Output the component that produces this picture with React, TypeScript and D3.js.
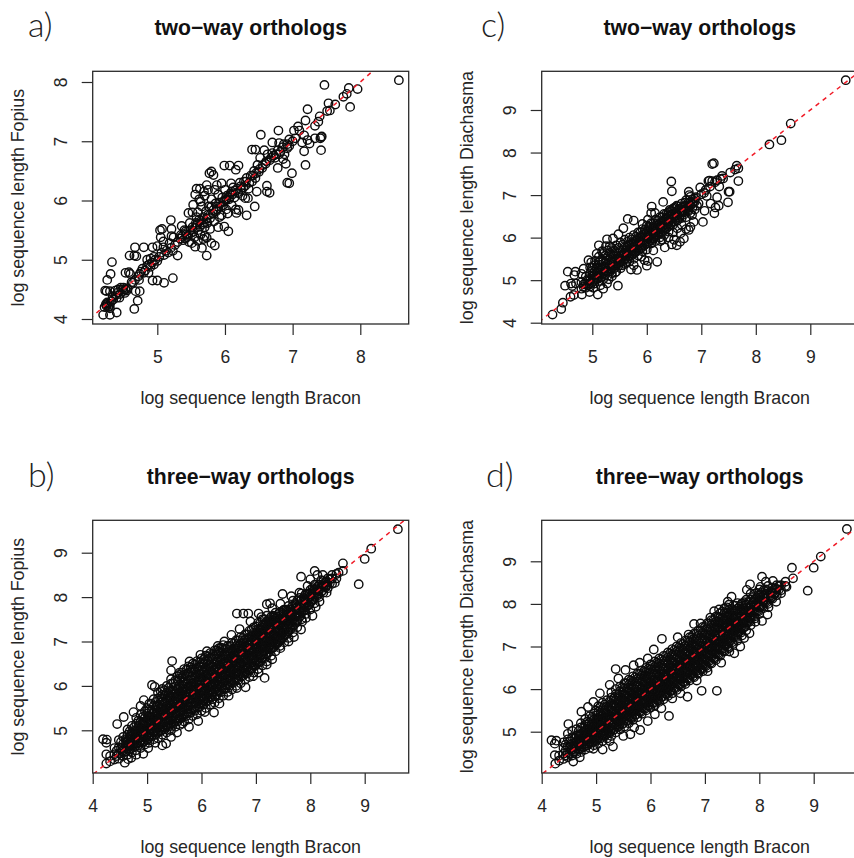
import { useEffect, useRef } from 'react';
import * as d3 from 'd3';

type Pair = [number, number];
type Column = [number, number[]];

const TITLE_TWO = 'two−way orthologs';
const TITLE_THREE = 'three−way orthologs';
const X_LABEL = 'log sequence length Bracon';
const FOPIUS_LABEL = 'log sequence length Fopius';
const DIACHASMA_LABEL = 'log sequence length Diachasma';

const ticksAX = [5, 6, 7, 8];
const ticksAY = [4, 5, 6, 7, 8];
const ticksCX = [5, 6, 7, 8, 9];
const ticksCY = [4, 5, 6, 7, 8, 9];
const ticksLowerX = [4, 5, 6, 7, 8, 9];
const ticksLowerY = [5, 6, 7, 8, 9];

const identityLine: Pair[] = [[3.5, 3.5], [10.5, 10.5]];

// a) Fopius vs Bracon, two-way
const twoWayFopius: Pair[] = [
  [8.57,8.03],[7.47,7.95],[7.83,7.9],[7.96,7.88],[7.8,7.8],[7.75,7.75],[7.85,7.58],[7.63,7.62],[7.53,7.64],[7.55,7.52],[7.51,7.51],[7.22,7.54],
  [7.4,7.42],[7.19,7.35],[7.38,7.33],[7.33,7.26],[7.08,7.25],[7.02,7.18],[7.1,7.18],[6.79,7.18],[6.53,7.11],[7.43,7.08],[7.42,7.07],[7.41,7.05],
  [7.33,7.05],[7.17,7.1],[7.22,7.02],[7.25,6.96],[7.14,6.98],[6.95,7.03],[6.7,6.98],[6.8,6.97],[7.0,7.0],[7.42,6.85],[7.17,6.83],[7.19,6.6],
  [6.99,6.46],[6.92,6.3],[6.95,6.29],[6.9,6.62],[6.78,6.55],[6.86,6.7],[6.92,6.88],[7.04,7.05],[6.87,6.95],[6.95,6.92],
  [4.2,4.07],[4.3,4.07],[4.4,4.11],[4.66,4.17],[4.71,4.31],[4.68,4.47],[4.74,4.47],[4.33,4.96],[4.31,4.76],[4.26,4.66],[4.23,4.48],[4.3,4.47],
  [4.22,4.2],[4.25,4.22],[4.27,4.26],[4.3,4.25],[4.32,4.3],[4.28,4.2],[4.24,4.25],[4.35,4.33],[4.38,4.4],[4.42,4.45],[4.45,4.42],[4.48,4.5],
  [4.5,4.47],[4.53,4.5],[4.44,4.36],[4.55,4.48],[4.38,4.48],[4.42,4.5],[4.46,4.53],[4.5,4.53],[4.25,4.47],[4.3,4.18],
  [4.53,4.78],[4.58,4.79],[4.6,4.76],[4.67,4.66],[4.73,4.66],[4.64,4.61],[4.59,5.07],[4.67,5.21],[4.66,5.07],[4.69,5.06],[4.8,5.21],[4.93,5.21],
  [5,5.23],[5.09,5.21],[4.93,4.65],[5,4.65],[5.1,4.61],[5.23,4.69],[4.87,4.78],[4.72,4.72],[4.76,4.8],[4.78,4.85],[4.82,4.82],[4.85,4.9],
  [4.88,4.92],[4.9,4.88],[4.92,4.95],[4.95,4.92],[4.97,5],[5,4.98],[4.9,5.02],[4.95,5.05],[4.85,5],[5.03,5.05],[5.06,5.12],[5.1,5.08],[5.13,5.15],
  [5.16,5.12],[5.2,5.2],[5.23,5.15],[5.26,5.25],[5.18,5.28],[5.3,5.07],[5.2,5.67],[5.07,5.52],[5.04,5.5],[5.21,5.52],[5.05,5.38],[5.09,5.31],
  [5.21,5.4],[5.24,5.38],[5.36,5.57],[5.4,5.5],[5.48,5.62],[5.73,5.07],[5.66,5.2],[5.85,5.24],[5.8,5.28],[5.73,5.37],[5.68,5.35],[5.56,5.22],
  [5.51,5.28],[6.05,5.48],[5.99,5.56],[5.77,6.46],[5.8,6.49],[5.83,6.43],[5.99,6.59],[6.07,6.59],[6.2,6.59],[6.16,6.52],[5.58,6.2],[5.63,6.2],
  [5.69,6.15],[5.73,6.26],[5.88,6.26],[5.95,6.29],[6.09,6.29],[5.56,6.1],[5.53,5.93],[5.46,5.79],[6.44,5.9],[6.32,5.75],[6.17,5.79],[6.2,5.84],
  [6.3,6.04],[6.34,6.04],[6.47,6.15],[6.62,6.15],[6.66,6.13],[6.62,6.25],[6.4,6.86],[6.45,6.86],
  [5.3,5.3],[5.35,5.42],[5.38,5.33],[5.42,5.48],[5.44,5.38],[5.47,5.3],[5.5,5.45],[5.52,5.55],[5.55,5.38],[5.57,5.62],[5.6,5.5],[5.62,5.68],
  [5.64,5.42],[5.66,5.6],[5.68,5.72],[5.7,5.55],[5.72,5.82],[5.74,5.62],[5.76,5.9],[5.78,5.7],[5.8,6.02],[5.82,5.78],[5.84,5.65],[5.86,5.95],
  [5.88,5.85],[5.9,6.1],[5.92,5.72],[5.94,5.9],[5.96,6.05],[5.98,5.98],[6,6.18],[6.02,5.85],[6.04,5.78],[6.06,6.02],[6.08,6.12],[6.1,5.92],
  [6.12,6.22],[6.14,6.05],[6.16,5.85],[6.18,6.2],[6.2,6.12],[6.22,6.3],[6.24,6.18],[6.26,6.08],[6.28,6.32],[6.3,6.25],[6.32,6.38],[6.35,6.2],
  [6.38,6.42],[6.4,6.32],[6.43,6.5],[6.45,6.38],[6.48,6.6],[6.5,6.48],[6.52,6.72],[6.55,6.55],[6.58,6.85],[6.6,6.62],[6.63,6.78],[6.66,6.68],
  [6.7,6.8],[6.74,6.72],[6.78,6.85],[6.8,6.78],[6.85,6.9],[6.88,6.78],[6.92,6.95],[5.62,6.02],[5.66,5.9],[5.7,6.08],[5.6,5.8],[5.75,6.18],
  [5.8,5.9],[5.9,5.55],[5.95,5.75],[5.85,6.18],[6.02,6.02],[6.1,6.15],[5.58,5.72],[5.64,5.98],[5.52,5.8],[5.78,5.52],[5.7,5.4],[5.6,5.32],
  [5.34,5.36],[5.37,5.4],[5.41,5.36],[5.43,5.43],[5.46,5.42],[5.49,5.5],[5.53,5.47],[5.56,5.54],[5.59,5.6],[5.63,5.56],[5.65,5.66],[5.69,5.63],
  [5.73,5.7],[5.75,5.76],[5.79,5.77],[5.83,5.84],[5.87,5.82],[5.89,5.9],[5.93,5.96],[5.97,5.92],[6,6],[6.03,6.08],[6.07,6.05],[6.11,6.1],
  [6.15,6.17],[6.19,6.14],[6.23,6.24],[6.27,6.22],[6.31,6.32],[6.36,6.3],[6.41,6.42],[6.46,6.46],[6.51,6.53],[6.56,6.6],[6.61,6.66],[6.68,6.72],
  [6.72,6.76],[6.76,6.78],[6.82,6.82],[4.26,4.28],[4.29,4.22],[4.34,4.38],[4.4,4.36],[4.52,4.44],[4.56,4.52],[4.62,4.62],[4.74,4.76],[4.8,4.78],
];

// c) Diachasma vs Bracon, two-way
const twoWayDiachasmaEdge: Pair[] = [
  [9.65,9.7],[8.64,8.68],[8.47,8.29],[8.25,8.19],[7.2,7.73],[7.23,7.75],[7.68,7.33],[7.65,7.69],[7.68,7.63],[7.62,7.6],[7.53,7.53],[7.4,7.39],
  [7.38,7.45],[7.5,7.08],[7.52,7.08],[7.49,6.83],[7.32,6.75],[7.24,6.57],[7.26,6.71],[7.29,6.95],[6.45,7.32],[6.46,7.09],[6.3,6.84],[6.09,6.73],
  [6.08,6.58],[7.03,6.37],[7.06,6.63],[7.17,6.8],[6.98,7.18],[6.77,7.08],[6.78,7],[7.13,7.33],[7.2,7.33],[7.29,7.35],[7.33,7.2],[7.15,7.34],
  [5.65,6.44],[5.76,6.4],[5.57,6.22],[5.48,6.08],[5.27,5.96],[5.12,5.82],[4.55,5.2],[4.69,5.2],[4.67,5.12],[4.84,5.27],[4.93,5.47],[4.5,4.87],
  [4.61,4.92],[4.63,4.86],[4.46,4.47],[4.43,4.32],[4.27,4.19],[4.6,4.61],[4.66,4.65],[4.81,4.66],[5.1,4.66],[5.2,4.8],[5.27,4.92],[5.47,4.87],
  [5.36,5.09],[5.82,5.24],[5.71,5.25],[5.76,5.35],[6,5.34],[6.02,5.45],[6.19,5.43],[5.96,5.47],[6.33,5.77],[6.46,5.84],[6.61,5.9],[6.68,5.98],
  [6.77,6.18],[6.8,6.25],[6.86,6.37],[6.83,6.53],[6.55,5.82],[6.28,5.95],[6.72,6.2],[6.92,6.75],[6.9,6.95],[7.05,7.05],[7.1,6.98],[6.95,6.8],
  [6.85,6.82],[6.62,6.1],[6.5,5.95],[6.4,6],[6.75,6.65],[6.7,6.82],[6.55,6.75],[6.5,6.7],[6.42,6.65],[6.15,6.58],[5.92,6.32],[6.02,6.42],
  [5.05,5.45],[4.98,5.42],[5.18,5.68],[5.32,5.8],[5.38,5.98],[5.25,5.8],[5.08,5.62],[5,5.3],[4.8,5.15],[4.7,4.92],[4.95,4.72],[5.02,4.82],
  [5.15,4.88],[5.3,5.02],[5.42,5.18],[5.55,5.35],[5.63,5.42],[5.9,5.55],[6.12,5.7],[6.25,5.92],[7,7.02],[7.08,7.12],[7.16,7.2],[7.25,7.3],[7.35,7.38],
];
const twoWayDiachasmaCore: Column[] = [
  [4.8,[4.8,4.95]],[4.88,[4.82,4.92,5.08]],[4.96,[4.85,5,5.16,5.3]],[5.04,[4.92,5.05,5.2,5.35]],[5.12,[4.98,5.12,5.27,5.42,5.55]],
  [5.2,[5.02,5.17,5.32,5.47,5.62]],[5.28,[5.1,5.22,5.38,5.55,5.7]],[5.36,[5.16,5.3,5.44,5.6,5.76]],[5.44,[5.2,5.36,5.5,5.66,5.82]],
  [5.52,[5.28,5.42,5.56,5.7,5.88]],[5.6,[5.38,5.5,5.64,5.78,5.95]],[5.68,[5.44,5.56,5.7,5.84,6]],[5.76,[5.5,5.62,5.76,5.9,6.06]],
  [5.84,[5.58,5.7,5.84,5.98,6.12]],[5.92,[5.68,5.78,5.92,6.06,6.2]],[6,[5.72,5.86,6,6.14,6.28]],[6.08,[5.86,5.94,6.06,6.2,6.34]],
  [6.16,[5.92,6.02,6.14,6.28,6.42]],[6.24,[6,6.1,6.22,6.34,6.48]],[6.32,[6.06,6.18,6.3,6.42,6.56]],[6.4,[6.14,6.26,6.38,6.5,6.6]],
  [6.48,[6.12,6.3,6.46,6.56,6.68]],[6.56,[6.22,6.4,6.52,6.64,6.74]],[6.64,[6.3,6.46,6.6,6.7,6.8]],[6.72,[6.48,6.68,6.76,6.88]],
  [6.8,[6.58,6.76,6.84,6.96]],[6.88,[6.66,6.84,6.92]],
  [4.92,[4.88,4.98]],[5,[4.95,5.08,5.22]],[5.08,[5.02,5.16,5.3]],[5.16,[5.08,5.22,5.36,5.48]],[5.24,[5.14,5.28,5.42,5.58]],
  [5.32,[5.2,5.34,5.48,5.64]],[5.4,[5.28,5.42,5.56,5.7]],[5.48,[5.34,5.48,5.62,5.76]],[5.56,[5.44,5.58,5.7,5.84]],[5.64,[5.5,5.64,5.78,5.9]],
  [5.72,[5.58,5.72,5.86,5.96]],[5.8,[5.66,5.8,5.92,6.02]],[5.88,[5.74,5.88,6,6.12]],[5.96,[5.82,5.94,6.08,6.18]],[6.04,[5.9,6.02,6.14,6.26]],
  [6.12,[5.98,6.1,6.22,6.34]],[6.2,[6.06,6.18,6.3,6.4]],[6.28,[6.14,6.26,6.38,6.48]],[6.36,[6.22,6.34,6.46,6.56]],[6.44,[6.3,6.42,6.54,6.62]],
  [6.52,[6.38,6.5,6.6,6.7]],[6.6,[6.46,6.58,6.68]],[6.68,[6.54,6.64,6.74]],[6.76,[6.62,6.72,6.82]],[6.84,[6.7,6.8,6.9]],
  [4.84,[4.84,4.9]],[4.94,[4.92,5.03]],[5.02,[4.98,5.12]],[5.1,[5.06,5.18]],[5.18,[5.14,5.26]],[5.26,[5.2,5.32]],[5.34,[5.26,5.38]],[5.42,[5.34,5.46]],
  [5.5,[5.4,5.52]],[5.58,[5.5,5.62]],[5.66,[5.58,5.68]],[5.74,[5.66,5.78]],[5.82,[5.74,5.86]],[5.9,[5.82,5.94]],[5.98,[5.9,6.02]],[6.06,[5.98,6.1]],
  [6.14,[6.06,6.18]],[6.22,[6.14,6.26]],[6.3,[6.22,6.34]],[6.38,[6.3,6.42]],[6.46,[6.38,6.5]],[6.54,[6.46,6.56]],[6.62,[6.54,6.64]],[6.7,[6.6,6.72]],
];

// b) Fopius vs Bracon, three-way
const threeWayFopiusEdge: Pair[] = [
  [9.61,9.53],[9.12,9.09],[9,8.86],[8.89,8.29],[8.6,8.76],[8.6,8.59],[8.08,8.59],[7.83,8.46],[8,8.4],[8.23,8.5],[8.13,8.5],[8.17,7.9],[8.04,7.58],
  [7.92,7.53],[7.83,7.27],[7.49,8.07],[7.2,7.84],[7.26,7.86],[6.65,7.63],[6.77,7.63],[6.86,7.63],[7.05,7.63],[7.16,6.18],[6.81,5.97],[6.33,5.6],
  [6.23,5.4],[5.46,6.56],[5.44,6.35],[5.09,6.02],[5.14,5.98],[4.94,5.68],[4.75,5.41],[4.57,5.3],[4.45,5.14],[4.19,4.8],[4.26,4.79],[4.25,4.72],
  [4.25,4.46],[4.25,4.25],[4.59,4.27],[4.71,4.38],[4.93,4.47],[5.28,4.66],[5.44,4.85],[5.77,5.08],[5.94,5.21],[6.06,5.41],[5.35,4.7],[5.02,4.6],
  [4.88,5.55],[5.25,5.88],[5.6,6.25],[5.78,6.55],[5.98,6.7],[6.1,6.78],[6.3,6.9],[6.42,7],[6.55,7.15],[6.7,7.28],[6.9,7.45],[7.1,7.55],[7.3,7.75],
  [7.45,7.85],[7.65,8.02],[7.8,8.1],[7.95,8.25],[8.2,8.38],[8.4,8.5],[8.52,8.55],[6.5,5.78],[6.65,5.95],[6.95,6.22],[7.05,6.3],[7.2,6.48],[7.3,6.6],
  [7.45,6.85],[7.6,7],[7.7,7.1],[7.85,7.45],[8.1,7.78],[8.3,8.1],[8.45,8.32],[5.55,4.95],[5.65,5.15],[4.65,4.35],[4.8,4.45],[5.15,4.72],
];
const threeWayFopiusCore: Column[] = [
  [4.32,[4.3,4.42]],[4.4,[4.34,4.46,4.6]],[4.48,[4.36,4.48,4.62,4.78]],[4.56,[4.42,4.55,4.7,4.85]],[4.64,[4.45,4.6,4.75,4.9,5.02]],
  [4.72,[4.5,4.65,4.8,4.95,5.1]],[4.8,[4.55,4.7,4.85,5,5.15,5.28]],[4.88,[4.6,4.75,4.9,5.05,5.2,5.35]],[4.96,[4.68,4.83,4.98,5.13,5.28,5.43]],
  [5.04,[4.72,4.87,5.02,5.17,5.32,5.47,5.6]],[5.12,[4.8,4.95,5.1,5.25,5.4,5.55,5.7]],[5.2,[4.82,4.97,5.12,5.27,5.42,5.57,5.72,5.85]],
  [5.28,[4.9,5.05,5.2,5.35,5.5,5.65,5.8,5.93]],[5.36,[4.95,5.1,5.25,5.4,5.55,5.7,5.85,6]],[5.44,[5,5.15,5.3,5.45,5.6,5.75,5.9,6.05,6.15]],
  [5.52,[5.08,5.23,5.38,5.53,5.68,5.83,5.98,6.13]],[5.6,[5.12,5.27,5.42,5.57,5.72,5.87,6.02,6.17,6.3]],[5.68,[5.2,5.35,5.5,5.65,5.8,5.95,6.1,6.25,6.38]],
  [5.76,[5.24,5.39,5.54,5.69,5.84,5.99,6.14,6.29,6.44]],[5.84,[5.32,5.47,5.62,5.77,5.92,6.07,6.22,6.37,6.5]],[5.92,[5.36,5.51,5.66,5.81,5.96,6.11,6.26,6.41,6.56]],
  [6,[5.44,5.59,5.74,5.89,6.04,6.19,6.34,6.49,6.62]],[6.08,[5.5,5.65,5.8,5.95,6.1,6.25,6.4,6.55,6.68]],[6.16,[5.58,5.73,5.88,6.03,6.18,6.33,6.48,6.63,6.74]],
  [6.24,[5.62,5.77,5.92,6.07,6.22,6.37,6.52,6.67,6.8]],[6.32,[5.72,5.87,6.02,6.17,6.32,6.47,6.62,6.77,6.85]],[6.4,[5.78,5.93,6.08,6.23,6.38,6.53,6.68,6.83,6.92]],
  [6.48,[5.86,6.01,6.16,6.31,6.46,6.61,6.76,6.9]],[6.56,[5.92,6.07,6.22,6.37,6.52,6.67,6.82,6.97]],[6.64,[6,6.15,6.3,6.45,6.6,6.75,6.9,7.03]],
  [6.72,[6.06,6.21,6.36,6.51,6.66,6.81,6.96,7.1]],[6.8,[6.14,6.29,6.44,6.59,6.74,6.89,7.04,7.16]],[6.88,[6.2,6.35,6.5,6.65,6.8,6.95,7.1,7.24]],
  [6.96,[6.3,6.45,6.6,6.75,6.9,7.05,7.2,7.32]],[7.04,[6.38,6.53,6.68,6.83,6.98,7.13,7.28,7.42]],[7.12,[6.46,6.61,6.76,6.91,7.06,7.21,7.36,7.5]],
  [7.2,[6.55,6.7,6.85,7,7.15,7.3,7.45,7.58]],[7.28,[6.68,6.83,6.98,7.13,7.28,7.43,7.56]],[7.36,[6.78,6.93,7.08,7.23,7.38,7.52,7.65]],
  [7.44,[6.9,7.05,7.2,7.35,7.5,7.65]],[7.52,[6.98,7.13,7.28,7.43,7.58,7.72]],[7.6,[7.08,7.23,7.38,7.53,7.68,7.8]],[7.68,[7.2,7.35,7.5,7.65,7.8,7.92]],
  [7.76,[7.32,7.47,7.62,7.77,7.92]],[7.84,[7.5,7.65,7.8,7.95,8.08]],[7.92,[7.62,7.77,7.92,8.07]],[8,[7.72,7.87,8.02,8.16]],[8.08,[7.86,8.01,8.16,8.28]],
  [8.16,[8,8.15,8.28]],[8.24,[8.1,8.24,8.36]],[8.32,[8.2,8.32,8.42]],[8.4,[8.3,8.42]],[8.48,[8.42,8.52]],
];
// second pass through the solid middle of the cloud
const threeWayFopiusInner: Column[] = [
  [4.44,[4.42,4.54]],[4.52,[4.48,4.6,4.74]],[4.6,[4.52,4.66,4.8]],[4.68,[4.57,4.71,4.86,4.98]],[4.76,[4.62,4.77,4.91,5.07]],
  [4.84,[4.66,4.81,4.97,5.1,5.22]],[4.92,[4.72,4.86,5.03,5.16,5.3]],[5,[4.78,4.93,5.08,5.22,5.38,5.5]],[5.08,[4.86,5,5.16,5.3,5.45,5.6]],
  [5.16,[4.9,5.05,5.2,5.35,5.5,5.64]],[5.24,[4.97,5.12,5.28,5.42,5.58,5.72]],[5.32,[5.02,5.18,5.33,5.48,5.62,5.78,5.9]],[5.4,[5.08,5.22,5.38,5.52,5.68,5.82,5.96]],
  [5.48,[5.15,5.3,5.45,5.6,5.76,5.9,6.06]],[5.56,[5.2,5.34,5.5,5.64,5.8,5.94,6.1,6.22]],[5.64,[5.28,5.42,5.58,5.72,5.88,6.02,6.18,6.3]],
  [5.72,[5.32,5.47,5.62,5.76,5.92,6.06,6.22,6.36]],[5.8,[5.4,5.54,5.7,5.84,6,6.14,6.3,6.42]],[5.88,[5.44,5.6,5.74,5.9,6.04,6.2,6.34,6.48]],
  [5.96,[5.52,5.66,5.82,5.96,6.12,6.26,6.42,6.54]],[6.04,[5.58,5.72,5.88,6.02,6.18,6.32,6.48,6.6]],[6.12,[5.66,5.8,5.96,6.1,6.26,6.4,6.56,6.66]],
  [6.2,[5.7,5.85,6,6.14,6.3,6.44,6.6,6.72]],[6.28,[5.8,5.94,6.1,6.24,6.4,6.54,6.7,6.8]],[6.36,[5.86,6,6.16,6.3,6.46,6.6,6.76,6.86]],
  [6.44,[5.94,6.08,6.24,6.38,6.54,6.68,6.84]],[6.52,[6,6.14,6.3,6.44,6.6,6.74,6.9]],[6.6,[6.08,6.22,6.38,6.52,6.68,6.82,6.96]],
  [6.68,[6.14,6.28,6.44,6.58,6.74,6.88,7.02]],[6.76,[6.22,6.36,6.52,6.66,6.82,6.96,7.08]],[6.84,[6.28,6.42,6.58,6.72,6.88,7.02,7.16]],
  [6.92,[6.38,6.52,6.68,6.82,6.98,7.12,7.26]],[7,[6.46,6.6,6.76,6.9,7.06,7.2,7.34]],[7.08,[6.54,6.68,6.84,6.98,7.14,7.28,7.42]],
  [7.16,[6.62,6.78,6.92,7.08,7.22,7.38,7.5]],[7.24,[6.76,6.9,7.06,7.2,7.36,7.5]],[7.32,[6.86,7,7.16,7.3,7.46,7.58]],[7.4,[6.96,7.12,7.26,7.42,7.56]],
  [7.48,[7.06,7.2,7.36,7.5,7.64]],[7.56,[7.16,7.3,7.46,7.6,7.72]],[7.64,[7.28,7.44,7.58,7.72]],[7.72,[7.42,7.56,7.7,7.84]],[7.8,[7.56,7.7,7.84,7.98]],
  [7.88,[7.7,7.84,7.98]],[7.96,[7.82,7.96,8.08]],[8.04,[7.94,8.08,8.2]],[8.12,[8.06,8.2]],[8.2,[8.12,8.24]],[8.28,[8.22,8.34]],[8.36,[8.32,8.4]],
];

// d) Diachasma vs Bracon, three-way
const threeWayDiachasmaEdge: Pair[] = [
  [9.61,9.76],[9.13,9.11],[9,8.85],[8.89,8.31],[8.6,8.85],[8.05,8.64],[7.83,8.46],[7.77,8.33],[7.49,8.17],[7.26,7.87],[7.17,7.83],[6.8,7.53],[6.92,7.54],
  [6.21,7.18],[6.06,6.93],[5.69,6.56],[5.36,6.47],[5.54,6.45],[5.41,6.25],[5.07,5.9],[4.95,5.7],[4.73,5.47],[4.49,5.18],[4.18,4.8],[4.27,4.79],[4.24,4.72],
  [4.24,4.45],[4.25,4.25],[4.58,4.3],[4.7,4.4],[5.12,4.58],[5.31,4.65],[5.5,4.9],[5.63,4.94],[5.81,5.04],[6.08,5.41],[6.34,5.37],[6.68,5.82],[6.94,5.96],
  [7.22,5.96],[7.54,6.84],[7.82,7.31],[7.93,7.58],[8.05,7.6],[8.17,7.92],[8.31,8.05],[8.25,8.54],[8.62,8.6],[8.12,8.52],[8.02,8.4],[7.68,8],[7.42,8.05],
  [7.1,7.68],[6.7,7.28],[6.5,7.22],[5.95,6.72],[5.8,6.62],[5.25,6.1],[4.85,5.58],[6.4,5.78],[6.55,5.9],[6.2,5.55],[5.95,5.25],[5.7,5.1],[5.25,4.78],[4.95,4.6],
  [6.85,6.2],[7.05,6.42],[7.3,6.62],[7.45,6.88],[7.65,7],[7.72,7.2],[8.15,7.75],[8.4,8.25],[8.5,8.4],
];
const threeWayDiachasmaCore: Column[] = [
  [4.32,[4.32,4.44]],[4.4,[4.36,4.48,4.62,4.75]],[4.48,[4.4,4.52,4.66,4.82,4.95]],[4.56,[4.44,4.58,4.72,4.87,5.02]],[4.64,[4.48,4.62,4.76,4.91,5.06]],
  [4.72,[4.52,4.66,4.8,4.95,5.1,5.2]],[4.8,[4.58,4.72,4.87,5.02,5.17,5.3]],[4.88,[4.62,4.76,4.91,5.06,5.21,5.36]],[4.96,[4.68,4.83,4.98,5.13,5.28,5.43]],
  [5.04,[4.72,4.87,5.02,5.17,5.32,5.47,5.6]],[5.12,[4.78,4.93,5.08,5.23,5.38,5.53,5.68]],[5.2,[4.84,4.99,5.14,5.29,5.44,5.59,5.74]],
  [5.28,[4.9,5.05,5.2,5.35,5.5,5.65,5.8,5.92]],[5.36,[4.98,5.13,5.28,5.43,5.58,5.73,5.88,6]],[5.44,[5.05,5.2,5.35,5.5,5.65,5.8,5.95,6.06]],
  [5.52,[5.12,5.27,5.42,5.57,5.72,5.87,6.02,6.14]],[5.6,[5.2,5.35,5.5,5.65,5.8,5.95,6.1,6.22]],[5.68,[5.28,5.43,5.58,5.73,5.88,6.03,6.18,6.3]],
  [5.76,[5.34,5.49,5.64,5.79,5.94,6.09,6.24,6.36]],[5.84,[5.42,5.57,5.72,5.87,6.02,6.17,6.32,6.44]],[5.92,[5.5,5.65,5.8,5.95,6.1,6.25,6.4,6.5]],
  [6,[5.56,5.71,5.86,6.01,6.16,6.31,6.46,6.58]],[6.08,[5.62,5.77,5.92,6.07,6.22,6.37,6.52,6.65]],[6.16,[5.7,5.85,6,6.15,6.3,6.45,6.6,6.72]],
  [6.24,[5.76,5.91,6.06,6.21,6.36,6.51,6.66,6.78]],[6.32,[5.84,5.99,6.14,6.29,6.44,6.59,6.74,6.86]],[6.4,[5.9,6.05,6.2,6.35,6.5,6.65,6.8,6.94]],
  [6.48,[5.98,6.13,6.28,6.43,6.58,6.73,6.88,7]],[6.56,[6.06,6.21,6.36,6.51,6.66,6.81,6.96,7.08]],[6.64,[6.12,6.27,6.42,6.57,6.72,6.87,7.02,7.14]],
  [6.72,[6.2,6.35,6.5,6.65,6.8,6.95,7.1,7.22]],[6.8,[6.28,6.43,6.58,6.73,6.88,7.03,7.18,7.3]],[6.88,[6.36,6.51,6.66,6.81,6.96,7.11,7.26,7.38]],
  [6.96,[6.42,6.57,6.72,6.87,7.02,7.17,7.32,7.46]],[7.04,[6.5,6.65,6.8,6.95,7.1,7.25,7.4,7.54]],[7.12,[6.6,6.75,6.9,7.05,7.2,7.35,7.5,7.62]],
  [7.2,[6.68,6.83,6.98,7.13,7.28,7.43,7.58,7.7]],[7.28,[6.78,6.93,7.08,7.23,7.38,7.53,7.68,7.78]],[7.36,[6.88,7.03,7.18,7.33,7.48,7.63,7.78,7.9]],
  [7.44,[6.96,7.11,7.26,7.41,7.56,7.71,7.86,7.98]],[7.52,[7.06,7.21,7.36,7.51,7.66,7.81,7.96]],[7.6,[7.14,7.29,7.44,7.59,7.74,7.89,8.02]],
  [7.68,[7.26,7.41,7.56,7.71,7.86,8.01]],[7.76,[7.38,7.53,7.68,7.83,7.98,8.1]],[7.84,[7.5,7.65,7.8,7.95,8.1,8.24]],[7.92,[7.66,7.81,7.96,8.11,8.24]],
  [8,[7.76,7.91,8.06,8.21,8.34]],[8.08,[7.9,8.05,8.2,8.32]],[8.16,[8,8.15,8.3,8.42]],[8.24,[8.12,8.26,8.38]],[8.32,[8.2,8.34,8.44]],[8.4,[8.32,8.44]],[8.48,[8.42,8.52]],
];
// second pass through the solid middle of the cloud
const threeWayDiachasmaInner: Column[] = [
  [4.44,[4.44,4.56,4.7]],[4.52,[4.5,4.64,4.78]],[4.6,[4.54,4.68,4.84]],[4.68,[4.6,4.74,4.88,5.02]],[4.76,[4.64,4.78,4.94,5.08]],
  [4.84,[4.68,4.82,4.98,5.12,5.24]],[4.92,[4.74,4.88,5.04,5.18,5.32]],[5,[4.78,4.92,5.08,5.22,5.38,5.5]],[5.08,[4.84,4.98,5.14,5.28,5.44,5.58]],
  [5.16,[4.9,5.04,5.2,5.34,5.5,5.64]],[5.24,[4.96,5.1,5.26,5.4,5.56,5.7]],[5.32,[5.04,5.18,5.34,5.48,5.64,5.78]],[5.4,[5.12,5.26,5.42,5.56,5.72,5.86]],
  [5.48,[5.18,5.32,5.48,5.62,5.78,5.92,6.04]],[5.56,[5.26,5.4,5.56,5.7,5.86,6,6.14]],[5.64,[5.34,5.48,5.64,5.78,5.94,6.08,6.2]],
  [5.72,[5.4,5.54,5.7,5.84,6,6.14,6.28]],[5.8,[5.48,5.62,5.78,5.92,6.08,6.22,6.36]],[5.88,[5.56,5.7,5.86,6,6.16,6.3,6.42]],
  [5.96,[5.62,5.76,5.92,6.06,6.22,6.36,6.48]],[6.04,[5.68,5.82,5.98,6.12,6.28,6.42,6.56]],[6.12,[5.76,5.9,6.06,6.2,6.36,6.5,6.62]],
  [6.2,[5.82,5.96,6.12,6.26,6.42,6.56,6.7]],[6.28,[5.9,6.04,6.2,6.34,6.5,6.64,6.78]],[6.36,[5.96,6.1,6.26,6.4,6.56,6.7,6.84]],
  [6.44,[6.04,6.18,6.34,6.48,6.64,6.78,6.92]],[6.52,[6.12,6.26,6.42,6.56,6.72,6.86,6.98]],[6.6,[6.18,6.32,6.48,6.62,6.78,6.92,7.06]],
  [6.68,[6.26,6.4,6.56,6.7,6.86,7,7.14]],[6.76,[6.34,6.48,6.64,6.78,6.94,7.08,7.22]],[6.84,[6.42,6.56,6.72,6.86,7.02,7.16,7.3]],
  [6.92,[6.48,6.62,6.78,6.92,7.08,7.22,7.38]],[7,[6.56,6.7,6.86,7,7.16,7.3,7.46]],[7.08,[6.66,6.8,6.96,7.1,7.26,7.4,7.54]],
  [7.16,[6.74,6.88,7.04,7.18,7.34,7.48,7.62]],[7.24,[6.84,6.98,7.14,7.28,7.44,7.58,7.7]],[7.32,[6.94,7.08,7.24,7.38,7.54,7.68,7.82]],
  [7.4,[7.04,7.18,7.34,7.48,7.64,7.78,7.92]],[7.48,[7.14,7.28,7.44,7.58,7.74,7.88]],[7.56,[7.24,7.38,7.54,7.68,7.84,7.96]],[7.64,[7.36,7.5,7.66,7.8,7.94]],
  [7.72,[7.46,7.6,7.76,7.9,8.04]],[7.8,[7.6,7.74,7.9,8.04]],[7.88,[7.72,7.86,8.02,8.16]],[7.96,[7.84,7.98,8.14,8.26]],[8.04,[7.96,8.1,8.26]],
  [8.12,[8.06,8.2,8.34]],[8.2,[8.14,8.28]],[8.28,[8.24,8.36]],[8.36,[8.34,8.42]],
];
// the black middle of both three-way clouds, too overplotted to tell the two apart
const threeWayMiddle: Column[] = [
  [4.62,[4.52,4.64,4.76]],[4.7,[4.58,4.7,4.82,4.9]],[4.78,[4.64,4.76,4.88,5]],[4.86,[4.72,4.84,4.96,5.08]],[4.94,[4.76,4.9,5.02,5.14]],
  [5.02,[4.82,4.96,5.06,5.2,5.32]],[5.1,[4.9,5.02,5.14,5.26,5.38]],[5.18,[4.94,5.08,5.2,5.32,5.46]],[5.26,[5,5.14,5.26,5.38,5.52]],
  [5.34,[5.06,5.2,5.32,5.46,5.6]],[5.42,[5.12,5.26,5.4,5.52,5.66,5.78]],[5.5,[5.2,5.34,5.46,5.6,5.72,5.86]],[5.58,[5.26,5.4,5.54,5.66,5.8,5.92]],
  [5.66,[5.32,5.46,5.6,5.74,5.86,6]],[5.74,[5.4,5.54,5.68,5.8,5.94,6.06]],[5.82,[5.46,5.6,5.74,5.88,6,6.14]],[5.9,[5.54,5.68,5.82,5.94,6.08,6.2]],
  [5.98,[5.6,5.74,5.88,6.02,6.14,6.28]],[6.06,[5.68,5.82,5.96,6.08,6.22,6.34]],[6.14,[5.74,5.88,6.02,6.16,6.28,6.42]],[6.22,[5.82,5.96,6.1,6.22,6.36,6.48]],
  [6.3,[5.88,6.02,6.16,6.3,6.42,6.56]],[6.38,[5.96,6.1,6.24,6.36,6.5,6.62]],[6.46,[6.02,6.16,6.3,6.44,6.56,6.7]],[6.54,[6.1,6.24,6.38,6.5,6.64,6.76]],
  [6.62,[6.16,6.3,6.44,6.58,6.7,6.84]],[6.7,[6.24,6.38,6.52,6.64,6.78,6.9]],[6.78,[6.3,6.44,6.58,6.72,6.84,6.98]],[6.86,[6.38,6.52,6.66,6.78,6.92,7.04]],
  [6.94,[6.46,6.6,6.74,6.86,7,7.12]],[7.02,[6.54,6.68,6.82,6.94,7.08,7.2]],[7.1,[6.62,6.76,6.9,7.02,7.16,7.28]],[7.18,[6.72,6.86,6.98,7.12,7.24,7.38]],
  [7.26,[6.82,6.94,7.08,7.2,7.32,7.46]],[7.34,[6.9,7.04,7.16,7.28,7.42,7.54]],[7.42,[7,7.14,7.26,7.38,7.5,7.62]],[7.5,[7.1,7.24,7.36,7.48,7.6,7.7]],
  [7.58,[7.22,7.34,7.46,7.58,7.7]],[7.66,[7.32,7.44,7.56,7.68,7.78]],[7.74,[7.46,7.58,7.7,7.82]],[7.82,[7.58,7.7,7.82,7.92]],[7.9,[7.7,7.82,7.94,8.04]],
  [7.98,[7.82,7.94,8.06]],[8.06,[7.94,8.06,8.16]],[8.14,[8.04,8.16,8.24]],[8.22,[8.14,8.26]],[8.3,[8.26,8.36]],
];

const expand = (columns: Column[]): Pair[] =>
  columns.flatMap(([x, ys]) => ys.map((y): Pair => [x, y]));

const panels = [
  {
    letter: 'a)', letterX: 28, letterY: 37, title: TITLE_TWO, yLabel: FOPIUS_LABEL, yLabelX: 24,
    left: 92.7, top: 71.3, bottom: 324, ticksX: ticksAX, ticksY: ticksAY,
    xRef: [5, 8, 157.3, 360.3], yRef: [4, 8, 319, 82], points: twoWayFopius,
  },
  {
    letter: 'c)', letterX: 481, letterY: 37, title: TITLE_TWO, yLabel: DIACHASMA_LABEL, yLabelX: 472.7,
    left: 541.7, top: 71.3, bottom: 324, ticksX: ticksCX, ticksY: ticksCY,
    xRef: [5, 9, 592.3, 810.3], yRef: [4, 9, 322.7, 110], points: [...expand(twoWayDiachasmaCore), ...twoWayDiachasmaEdge],
  },
  {
    letter: 'b)', letterX: 28, letterY: 487, title: TITLE_THREE, yLabel: FOPIUS_LABEL, yLabelX: 24,
    left: 92.7, top: 520.3, bottom: 773, ticksX: ticksLowerX, ticksY: ticksLowerY,
    xRef: [4, 9, 92.7, 364.7], yRef: [5, 9, 730.3, 552.7],
    points: [...expand(threeWayFopiusCore), ...expand(threeWayFopiusInner), ...expand(threeWayMiddle), ...threeWayFopiusEdge],
  },
  {
    letter: 'd)', letterX: 486, letterY: 487, title: TITLE_THREE, yLabel: DIACHASMA_LABEL, yLabelX: 472.7,
    left: 541.7, top: 520.3, bottom: 773, ticksX: ticksLowerX, ticksY: ticksLowerY,
    xRef: [4, 9, 541.7, 813.7], yRef: [5, 9, 731.7, 561.3],
    points: [...expand(threeWayDiachasmaCore), ...expand(threeWayDiachasmaInner), ...expand(threeWayMiddle), ...threeWayDiachasmaEdge],
  },
];

const PANEL_WIDTH = 316;
const SANS = '"Liberation Sans", Arial, sans-serif';
const INK = '#262626';

const App = () => {
  const svgRef = useRef<SVGSVGElement>(null);

  useEffect(() => {
    if (!svgRef.current) return;
    const svg = d3.select(svgRef.current);
    svg.selectAll('*').remove();

    panels.forEach((p, i) => {
      const right = p.left + PANEL_WIDTH;
      const cx = (p.left + right) / 2;
      const x = d3.scaleLinear().domain([p.xRef[0], p.xRef[1]]).range([p.xRef[2], p.xRef[3]]);
      const y = d3.scaleLinear().domain([p.yRef[0], p.yRef[1]]).range([p.yRef[2], p.yRef[3]]);
      const g = svg.append('g');

      g.selectAll('circle')
        .data(p.points)
        .enter()
        .append('circle')
        .attr('cx', d => x(d[0]))
        .attr('cy', d => y(d[1]))
        .attr('r', 4.2)
        .attr('fill', 'none')
        .attr('stroke', '#0c0c0c')
        .attr('stroke-width', 1.4);

      const clipId = `plot-clip-${i}`;
      g.append('clipPath').attr('id', clipId).append('rect')
        .attr('x', p.left).attr('y', p.top)
        .attr('width', PANEL_WIDTH).attr('height', p.bottom - p.top);

      const line = d3.line<Pair>().x(d => x(d[0])).y(d => y(d[1]));
      g.append('path')
        .attr('d', line(identityLine))
        .attr('clip-path', `url(#${clipId})`)
        .attr('fill', 'none')
        .attr('stroke', '#f01c28')
        .attr('stroke-width', 1.5)
        .attr('stroke-dasharray', '4.5 4.5');

      g.append('rect')
        .attr('x', p.left).attr('y', p.top)
        .attr('width', PANEL_WIDTH).attr('height', p.bottom - p.top)
        .attr('fill', 'none')
        .attr('stroke', '#2a2a2a')
        .attr('stroke-width', 1.3);

      const xAxis = g.append('g')
        .attr('transform', `translate(0,${p.bottom})`)
        .call(d3.axisBottom(x).tickValues(p.ticksX).tickFormat(d3.format('d')).tickSize(11).tickPadding(15.2));
      const yAxis = g.append('g')
        .attr('transform', `translate(${p.left},0)`)
        .call(d3.axisLeft(y).tickValues(p.ticksY).tickFormat(d3.format('d')).tickSize(11));

      [xAxis, yAxis].forEach(axis => {
        axis.select('.domain').remove();
        axis.selectAll('line').attr('stroke', '#2a2a2a').attr('stroke-width', 1.2);
        axis.selectAll('text').style('font-family', SANS).style('font-size', '17.5px').attr('fill', INK);
      });
      yAxis.selectAll('text')
        .attr('transform', 'rotate(-90)')
        .attr('x', 0)
        .attr('y', -26)
        .attr('dy', 0)
        .attr('text-anchor', 'middle');

      g.append('text')
        .attr('x', cx).attr('y', p.top - 36.8)
        .attr('text-anchor', 'middle')
        .style('font-family', SANS).style('font-size', '21.2px').style('font-weight', 'bold')
        .attr('fill', '#111')
        .text(p.title);

      g.append('text')
        .attr('x', cx).attr('y', p.bottom + 80)
        .attr('text-anchor', 'middle')
        .style('font-family', SANS).style('font-size', '17.8px')
        .attr('fill', INK)
        .text(X_LABEL);

      g.append('text')
        .attr('transform', `translate(${p.yLabelX},${(p.top + p.bottom) / 2}) rotate(-90)`)
        .attr('text-anchor', 'middle')
        .style('font-family', SANS).style('font-size', '17.8px')
        .attr('fill', INK)
        .text(p.yLabel);

      g.append('text')
        .attr('x', p.letterX).attr('y', p.letterY)
        .style('font-family', 'Lato, sans-serif').style('font-size', '34px').style('font-weight', 300)
        .attr('fill', '#222')
        .text(p.letter);
    });
  }, []);

  return (
    <svg
      ref={svgRef}
      width={854}
      height={858}
      style={{ position: 'absolute', left: 0, top: 0, background: '#fff' }}
    />
  );
};

export default App;
